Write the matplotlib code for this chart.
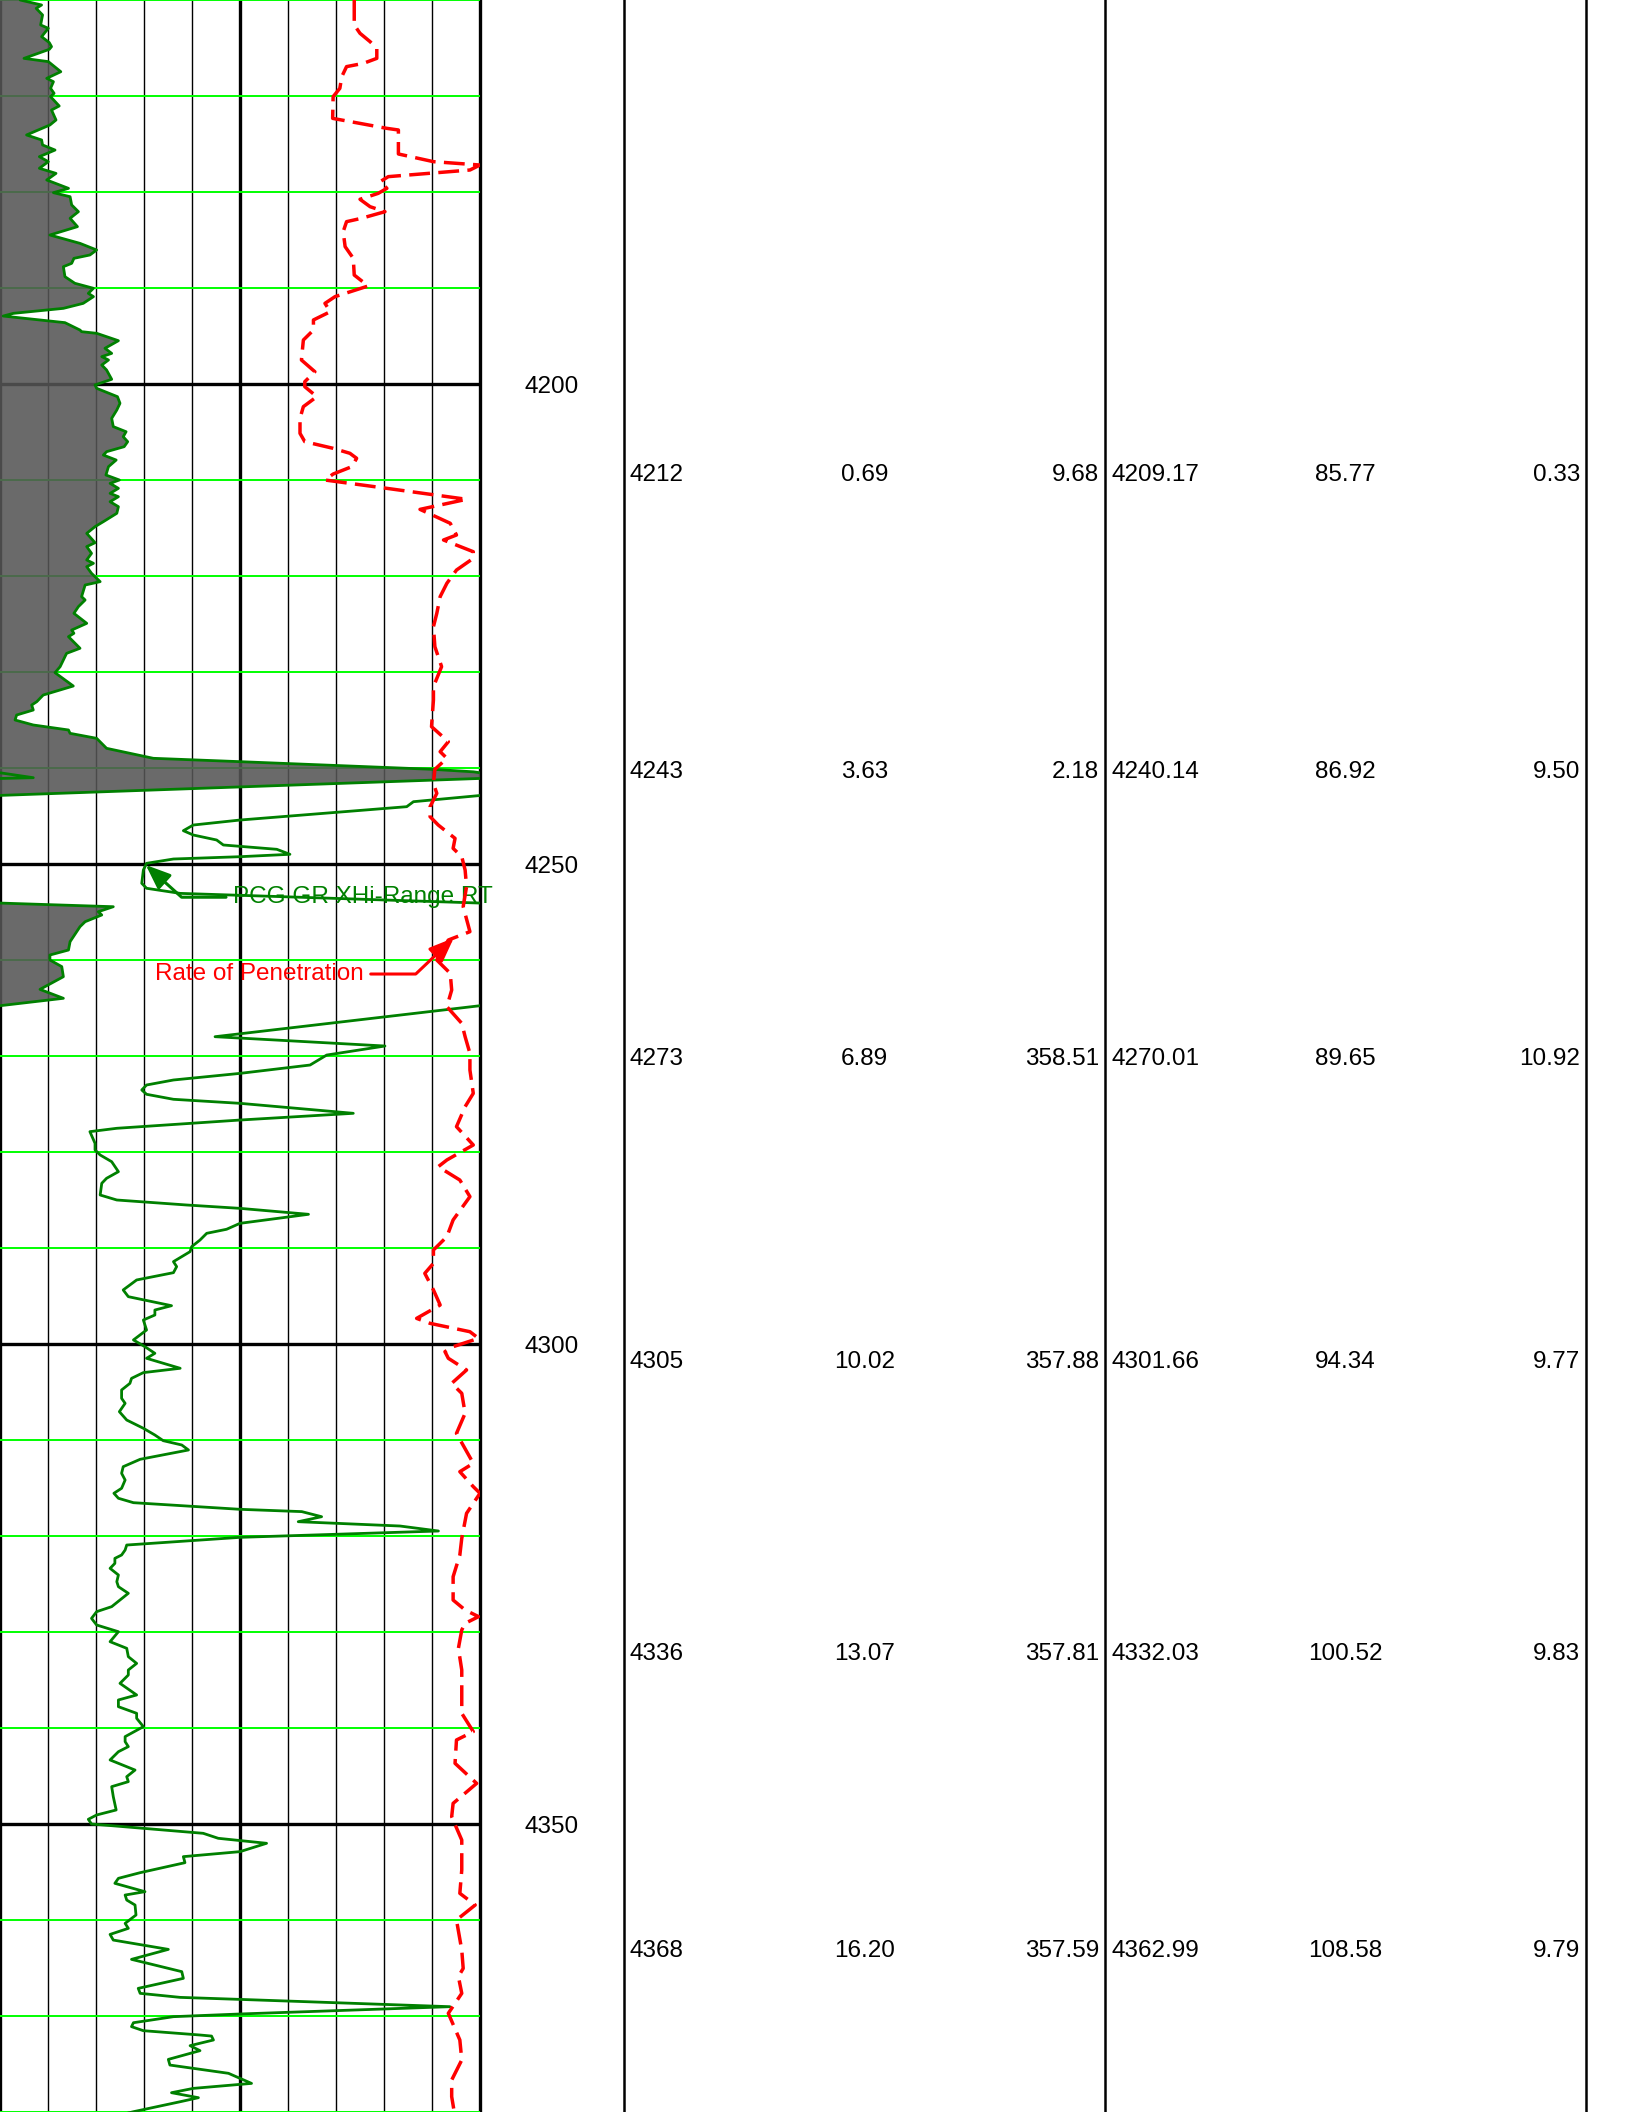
import numpy as np
import matplotlib
matplotlib.use("Agg")
import matplotlib.pyplot as plt
from matplotlib.collections import LineCollection

plt.rcParams['font.family'] = ['Liberation Sans', 'DejaVu Sans']

TOP, BASE = 4160, 4380
GR_SPAN = 150.0      # one pass of the gamma ray scale, values above it wrap
ROP_MAX = 100.0

# Gamma ray (API) against measured depth
gr_depth = [
    4160.00, 4160.52, 4160.87, 4161.56, 4162.60, 4162.95, 4163.82, 4164.44, 4164.86, 4165.14,
    4166.08, 4166.42, 4167.47, 4168.16, 4168.51, 4169.20, 4169.72, 4170.07, 4171.04, 4171.46,
    4172.50, 4173.02, 4174.06, 4174.58, 4175.10, 4175.63, 4176.32, 4176.84, 4177.53, 4178.06,
    4178.75, 4179.62, 4180.07, 4180.49, 4181.35, 4182.05, 4182.74, 4183.61, 4184.48, 4185.35,
    4186.04, 4186.56, 4186.91, 4187.43, 4187.78, 4188.82, 4189.51, 4190.03, 4190.56, 4190.90,
    4191.60, 4192.12, 4192.64, 4192.92, 4193.61, 4194.38, 4194.55, 4194.72, 4195.49, 4196.28,
    4196.81, 4197.15, 4197.50, 4198.02, 4198.54, 4199.51, 4200.10, 4200.45, 4201.32, 4202.01,
    4202.71, 4203.58, 4204.44, 4204.97, 4205.49, 4206.01, 4206.53, 4207.05, 4207.40, 4207.92,
    4208.61, 4209.48, 4210.00, 4210.35, 4210.87, 4211.39, 4211.74, 4212.26, 4212.78, 4213.47,
    4214.34, 4214.86, 4215.56, 4216.53, 4216.94, 4217.64, 4218.33, 4218.68, 4219.03, 4219.72,
    4220.59, 4220.94, 4222.15, 4222.50, 4223.19, 4223.89, 4224.93, 4225.63, 4225.97, 4226.32,
    4227.53, 4228.06, 4229.44, 4230.07, 4231.46, 4232.40, 4233.09, 4233.44, 4233.96, 4234.48,
    4235.00, 4235.52, 4236.04, 4236.39, 4236.91, 4237.95, 4238.99, 4239.34, 4240.14, 4240.40,
    4241.01, 4241.10, 4242.85, 4243.51, 4244.03, 4245.42, 4245.94, 4246.53, 4246.98, 4247.50,
    4248.02, 4248.47, 4248.99, 4249.24, 4249.48, 4249.93, 4250.63, 4252.01, 4252.53, 4253.06,
    4254.45, 4254.97, 4255.31, 4256.01, 4256.53, 4258.09, 4258.96, 4259.48, 4260.00, 4260.69,
    4261.74, 4263.06, 4263.99, 4267.99, 4268.96, 4269.90, 4270.94, 4271.81, 4272.50, 4273.02,
    4273.54, 4273.99, 4274.51, 4274.93, 4275.97, 4276.67, 4277.53, 4277.88, 4279.10, 4279.79,
    4280.31, 4281.01, 4282.05, 4282.74, 4283.26, 4284.48, 4285.00, 4285.52, 4285.87, 4286.49,
    4287.43, 4288.05, 4288.47, 4289.17, 4289.86, 4290.38, 4291.42, 4291.94, 4292.57, 4293.33,
    4294.37, 4295.07, 4296.01, 4296.46, 4296.98, 4297.50, 4298.54, 4299.58, 4300.28, 4300.97,
    4301.49, 4302.53, 4302.98, 4303.58, 4304.10, 4304.79, 4305.66, 4306.18, 4307.05, 4307.92,
    4308.78, 4309.48, 4310.07, 4310.52, 4311.04, 4312.01, 4312.78, 4313.47, 4314.17, 4315.03,
    4315.55, 4316.07, 4316.53, 4317.22, 4317.46, 4317.99, 4318.51, 4318.96, 4319.48, 4320.14,
    4320.94, 4321.46, 4321.98, 4322.33, 4322.85, 4323.37, 4324.06, 4324.76, 4325.28, 4325.97,
    4327.36, 4327.88, 4328.58, 4329.27, 4329.97, 4331.01, 4331.70, 4332.57, 4333.27, 4333.96,
    4334.48, 4335.35, 4336.56, 4337.08, 4337.78, 4338.47, 4338.99, 4339.86, 4340.90, 4341.42,
    4341.94, 4342.47, 4343.33, 4344.38, 4345.07, 4345.59, 4346.11, 4347.15, 4348.54, 4349.06,
    4349.51, 4350.00, 4350.97, 4351.49, 4352.01, 4352.88, 4353.40, 4354.03, 4355.07, 4355.66,
    4356.18, 4357.05, 4357.40, 4357.92, 4358.44, 4359.48, 4360.35, 4360.87, 4361.50, 4362.09,
    4363.06, 4364.10, 4365.38, 4366.08, 4367.12, 4367.64, 4368.06, 4368.27, 4369.03, 4369.79,
    4370.07, 4370.70, 4371.11, 4371.53, 4371.98, 4372.09, 4372.50, 4373.09, 4373.61, 4374.52,
    4375.11, 4375.97, 4377.02, 4377.54, 4377.99, 4378.51, 4378.93, 4379.97, 4380.50,
]
gr_api = [
    156.3, 163.0, 161.3, 163.3, 162.7, 165.1, 163.0, 165.4, 166.1, 165.4,
    157.5, 165.1, 169.0, 164.6, 166.7, 165.8, 166.9, 165.8, 168.5, 166.1,
    167.5, 165.6, 158.3, 163.0, 163.3, 167.2, 162.3, 165.1, 162.3, 167.5,
    164.6, 171.4, 166.7, 171.9, 172.4, 174.5, 171.9, 174.2, 165.6, 175.0,
    180.2, 178.1, 173.1, 172.4, 169.8, 170.3, 173.4, 179.2, 177.6, 179.2,
    176.0, 169.8, 154.2, 151.0, 170.3, 175.0, 175.5, 180.2, 187.0, 182.8,
    184.9, 181.8, 183.9, 181.8, 183.3, 184.9, 179.7, 180.2, 186.7, 187.5,
    186.5, 184.9, 185.4, 189.4, 188.5, 189.9, 188.8, 183.3, 182.3, 186.3,
    183.9, 183.1, 187.3, 184.4, 187.0, 184.4, 187.0, 184.4, 187.0, 186.5,
    182.3, 179.7, 177.1, 179.7, 177.1, 178.6, 177.1, 179.2, 177.1, 178.6,
    181.3, 176.6, 175.5, 176.6, 174.5, 173.1, 177.1, 172.4, 173.1, 171.4,
    175.0, 170.8, 168.8, 167.2, 172.9, 163.5, 161.5, 159.9, 160.4, 155.2,
    154.7, 160.4, 171.4, 171.9, 180.2, 183.3, 197.9, 225.0, 285.4, 298.0,
    310.4, 299.0, 150.5, 129.2, 127.1, 75.0, 60.4, 57.3, 60.4, 67.7,
    69.8, 86.5, 90.6, 75.0, 54.2, 45.8, 44.8, 44.3, 45.8, 56.3,
    185.4, 180.7, 181.8, 176.6, 175.0, 171.9, 171.4, 165.6, 165.6, 169.3,
    169.8, 162.5, 169.8, 67.2, 120.3, 102.1, 96.9, 75.0, 54.2, 45.8,
    44.3, 45.8, 54.2, 75.0, 110.4, 75.0, 36.5, 28.1, 29.7, 29.7,
    31.3, 34.9, 37.0, 33.3, 31.8, 31.3, 36.5, 58.3, 75.0, 96.4,
    75.0, 70.8, 64.6, 62.5, 59.9, 59.4, 54.2, 55.2, 54.2, 42.7,
    38.5, 40.1, 53.6, 48.4, 48.4, 44.8, 45.8, 41.7, 45.3, 48.4,
    45.8, 56.3, 44.8, 41.1, 40.6, 38.0, 38.0, 39.1, 37.3, 39.6,
    44.8, 48.4, 51.0, 56.8, 58.9, 43.8, 38.5, 38.0, 39.1, 38.0,
    35.6, 37.0, 41.7, 75.0, 94.3, 100.5, 93.2, 125.0, 137.0, 75.0,
    39.6, 39.1, 38.0, 35.9, 35.9, 34.4, 37.0, 36.5, 37.0, 40.1,
    34.9, 30.2, 28.6, 30.2, 37.0, 34.4, 39.6, 40.1, 42.7, 40.1,
    40.1, 37.5, 42.7, 37.0, 37.0, 42.7, 42.7, 44.8, 39.1, 39.1,
    40.1, 37.0, 34.4, 42.2, 39.6, 40.1, 34.9, 35.4, 36.3, 30.2,
    27.6, 28.6, 63.5, 68.2, 83.3, 75.0, 57.3, 57.8, 43.8, 37.0,
    35.9, 45.3, 39.1, 39.6, 42.2, 42.5, 39.1, 40.1, 34.4, 35.4,
    52.6, 41.1, 56.8, 57.3, 43.2, 43.8, 56.3, 75.0, 140.6, 75.0,
    54.2, 41.7, 41.1, 44.8, 62.5, 66.1, 66.7, 59.4, 62.5, 52.6,
    53.1, 71.4, 78.6, 60.4, 53.6, 62.0, 56.3, 41.7, 35.0,
]

# Rate of penetration against measured depth
rop_depth = [
    4160.00, 4162.60, 4163.47, 4164.34, 4165.03, 4166.08, 4166.60, 4166.94, 4167.99, 4169.20,
    4170.07, 4172.33, 4173.37, 4173.54, 4176.04, 4176.84, 4177.19, 4177.71, 4178.40, 4178.92,
    4179.62, 4180.14, 4180.76, 4181.53, 4182.05, 4182.74, 4183.09, 4184.13, 4185.69, 4186.91,
    4188.65, 4189.79, 4190.90, 4191.60, 4192.47, 4193.33, 4194.38, 4195.42, 4197.50, 4198.72,
    4199.76, 4200.28, 4201.32, 4202.36, 4203.58, 4205.14, 4206.01, 4206.70, 4207.22, 4207.74,
    4208.61, 4209.38, 4210.00, 4210.87, 4212.01, 4213.06, 4214.51, 4215.73, 4216.25, 4217.47,
    4218.16, 4219.38, 4220.76, 4222.15, 4223.89, 4225.28, 4227.36, 4229.44, 4231.53, 4232.92,
    4235.69, 4237.26, 4238.30, 4238.99, 4240.14, 4241.60, 4242.64, 4244.03, 4245.07, 4245.94,
    4247.33, 4248.37, 4249.24, 4250.63, 4252.36, 4254.44, 4257.05, 4257.92, 4260.00, 4261.39,
    4263.13, 4264.86, 4266.60, 4267.99, 4269.72, 4271.46, 4273.89, 4275.28, 4277.36, 4279.27,
    4280.83, 4281.53, 4282.92, 4284.65, 4287.08, 4288.82, 4290.21, 4291.60, 4292.64, 4294.37,
    4295.94, 4297.33, 4297.85, 4298.72, 4299.41, 4300.28, 4300.80, 4301.49, 4302.71, 4304.10,
    4305.14, 4307.22, 4309.31, 4312.43, 4313.30, 4314.86, 4315.55, 4317.64, 4320.24, 4321.98,
    4324.24, 4326.67, 4327.71, 4328.40, 4329.10, 4329.79, 4331.70, 4333.96, 4338.47, 4340.38,
    4341.25, 4343.68, 4345.77, 4347.85, 4349.24, 4351.67, 4354.79, 4357.22, 4358.44, 4360.00,
    4363.13, 4365.04, 4365.90, 4367.64, 4369.72, 4372.50, 4374.58, 4376.67, 4378.40, 4380.50,
]
rop_rate = [
    73.8, 73.8, 75.0, 77.1, 78.5, 78.5, 75.7, 72.2, 71.2, 70.8,
    69.4, 69.3, 80.6, 83.0, 83.0, 90.3, 100.0, 97.9, 80.9, 79.2,
    80.6, 78.8, 75.0, 77.1, 80.2, 75.3, 72.2, 71.5, 71.9, 73.6,
    73.8, 76.7, 69.8, 67.7, 68.8, 65.3, 65.3, 63.2, 62.8, 65.6,
    63.5, 63.5, 66.0, 63.2, 62.5, 62.5, 63.5, 69.4, 72.9, 74.3,
    73.3, 69.4, 67.7, 80.6, 97.2, 87.5, 93.8, 95.1, 92.4, 98.6,
    98.6, 95.1, 93.1, 91.7, 91.0, 90.3, 90.6, 92.0, 90.3, 90.3,
    89.9, 93.4, 91.7, 93.1, 90.6, 90.3, 91.0, 89.6, 89.6, 91.3,
    94.8, 94.4, 96.2, 96.9, 97.2, 96.5, 97.9, 93.4, 91.0, 93.8,
    94.1, 93.1, 96.2, 96.9, 97.9, 97.9, 98.6, 96.9, 95.1, 98.6,
    93.1, 91.3, 95.8, 97.9, 94.4, 93.1, 90.3, 90.3, 88.5, 90.3,
    91.7, 86.8, 89.6, 97.9, 99.7, 94.4, 92.7, 93.4, 97.2, 94.1,
    96.2, 96.9, 95.1, 98.6, 95.8, 98.6, 100.0, 97.2, 96.2, 95.8,
    94.4, 94.4, 96.9, 99.7, 96.9, 96.2, 95.5, 96.2, 96.2, 98.6,
    95.1, 94.8, 99.3, 94.4, 94.1, 96.2, 96.2, 95.8, 99.0, 95.1,
    96.2, 96.5, 95.5, 96.2, 93.4, 95.8, 96.2, 94.1, 94.1, 94.8,
]

# Directional survey stations
survey_md = [4212, 4243, 4273, 4305, 4336, 4368]
survey_inc = [0.69, 3.63, 6.89, 10.02, 13.07, 16.20]
survey_azi = [9.68, 2.18, 358.51, 357.88, 357.81, 357.59]
survey_tvd = [4209.17, 4240.14, 4270.01, 4301.66, 4332.03, 4362.99]
survey_vs = [85.77, 86.92, 89.65, 94.34, 100.52, 108.58]
survey_dls = [0.33, 9.50, 10.92, 9.77, 9.83, 9.79]

depth_labels = [4200, 4250, 4300, 4350]

FS = 17.5


def wrap_trace(depth, value, span):
    """Insert the points where the curve crosses a wrap boundary."""
    dd, vv = [depth[0]], [value[0]]
    for d0, v0, d1, v1 in zip(depth[:-1], value[:-1], depth[1:], value[1:]):
        b0, b1 = int(v0 // span), int(v1 // span)
        lo, hi = sorted((b0, b1))
        edges = [span * k for k in range(lo + 1, hi + 1)]
        if v1 < v0:
            edges = edges[::-1]
        for e in edges:
            t = (e - v0) / (v1 - v0)
            dd.append(d0 + t * (d1 - d0))
            vv.append(e)
        dd.append(d1)
        vv.append(v1)
    dd, vv = np.array(dd), np.array(vv)

    pieces, cur, cur_band = [], [], None
    for i in range(len(dd) - 1):
        band = int(((vv[i] + vv[i + 1]) / 2) // span)
        if band != cur_band:
            if cur:
                pieces.append(cur)
            cur = [(vv[i] - band * span, dd[i])]
            cur_band = band
        cur.append((vv[i + 1] - band * span, dd[i + 1]))
    pieces.append(cur)
    return dd, vv, pieces


W, H = 1632, 2112
fig = plt.figure(figsize=(W / 100, H / 100), dpi=100)
fig.patch.set_facecolor('white')

TRACK_W = 480
ax = fig.add_axes([0, 0, TRACK_W / W, 1])
ax.set_xlim(0, GR_SPAN)
ax.set_ylim(BASE, TOP)
ax.axis('off')

# track grid
for i, x in enumerate(np.linspace(0, GR_SPAN, 11)):
    heavy = i in (0, 5, 10)
    ax.axvline(x, color='black', lw=2.4 if heavy else 1.0, zorder=1, clip_on=False)
for d in range(TOP, BASE + 1, 10):
    if d % 50 == 0:
        ax.axhline(d, color='black', lw=2.4, zorder=1.2)
    else:
        ax.axhline(d, color='#00ff00', lw=1.4, zorder=1.1)

# gamma ray with wrap-around backup and shading
dd, vv, pieces = wrap_trace(gr_depth, gr_api, GR_SPAN)
shade = np.clip(vv - GR_SPAN, 0, GR_SPAN)
ax.fill_betweenx(dd, 0, shade, facecolor='#555555', alpha=0.88, lw=0, zorder=2)
ax.add_collection(LineCollection(pieces, colors='#008000', linewidths=2.0,
                                 zorder=3, joinstyle='round', capstyle='round'))

# rate of penetration on its own scale
ax2 = ax.twiny()
ax2.set_xlim(0, ROP_MAX)
ax2.set_ylim(BASE, TOP)
ax2.axis('off')
ax2.plot(rop_rate, rop_depth, color='red', lw=2.5, linestyle=(0, (6.0, 2.4)), zorder=3)

# curve labels
arrow_style = '-|>,head_length=0.75,head_width=0.3'
gr_tip = 4250.1
ax.annotate('PCG GR XHi-Range RT',
            xy=(np.interp(gr_tip, gr_depth, gr_api), gr_tip), xytext=(72.8, 4253.2),
            color='green', fontsize=FS, ha='left', va='center_baseline', zorder=6,
            arrowprops=dict(arrowstyle=arrow_style, color='green',
                            lw=2.2, mutation_scale=20, shrinkA=3, shrinkB=0,
                            connectionstyle='angle,angleA=0,angleB=138,rad=0'))
rop_tip = 4257.7
ax2.annotate('Rate of Penetration',
             xy=(np.interp(rop_tip, rop_depth, rop_rate), rop_tip), xytext=(32.3, 4261.2),
             color='red', fontsize=FS, ha='left', va='center_baseline', zorder=6,
             arrowprops=dict(arrowstyle=arrow_style, color='red',
                             lw=2.2, mutation_scale=20, shrinkA=3, shrinkB=0,
                             connectionstyle='angle,angleA=0,angleB=43.5,rad=0'))

# depth column and survey table
axt = fig.add_axes([TRACK_W / W, 0, 1 - TRACK_W / W, 1])
axt.set_xlim(TRACK_W, W)
axt.set_ylim(BASE, TOP)
axt.axis('off')

for d in depth_labels:
    axt.text(552, d, str(d), ha='center', va='center_baseline', fontsize=FS)

col_edges = [624, 1105, 1586]
for x in col_edges:
    axt.axvline(x, color='black', lw=1.8)

pad = 6
for md, inc, azi, tvd, vs, dls in zip(survey_md, survey_inc, survey_azi,
                                      survey_tvd, survey_vs, survey_dls):
    a, b, c = col_edges
    axt.text(a + pad, tvd, f'{md}', ha='left', va='center_baseline', fontsize=FS)
    axt.text((a + b) / 2, tvd, f'{inc:.2f}', ha='center', va='center_baseline', fontsize=FS)
    axt.text(b - pad, tvd, f'{azi:.2f}', ha='right', va='center_baseline', fontsize=FS)
    axt.text(b + pad, tvd, f'{tvd:.2f}', ha='left', va='center_baseline', fontsize=FS)
    axt.text((b + c) / 2, tvd, f'{vs:.2f}', ha='center', va='center_baseline', fontsize=FS)
    axt.text(c - pad, tvd, f'{dls:.2f}', ha='right', va='center_baseline', fontsize=FS)

fig.savefig('out.png', dpi=100)
